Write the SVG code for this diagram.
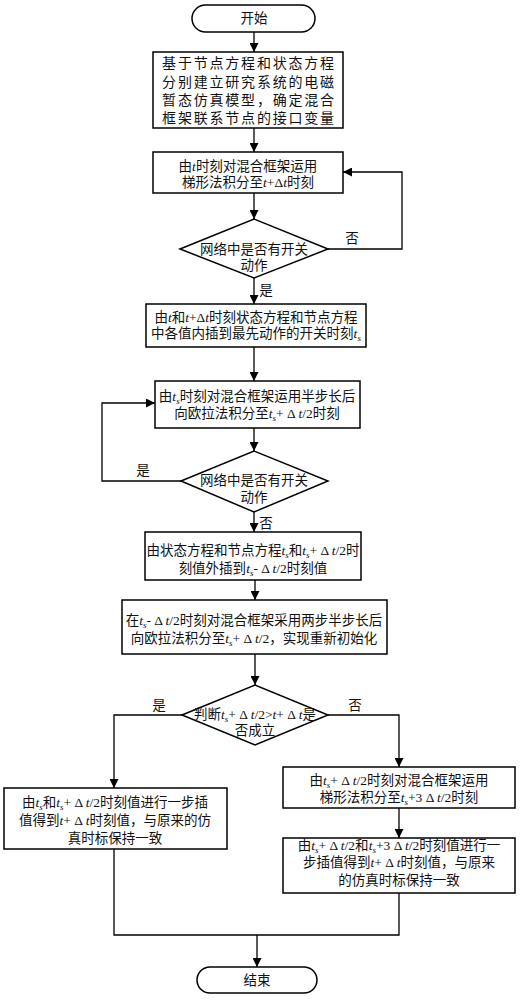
<svg xmlns="http://www.w3.org/2000/svg" width="521" height="1000" viewBox="0 0 521 1000">
<defs>
<style>
.b{fill:#fff;stroke:#000;stroke-width:1.5}
.l{fill:none;stroke:#000;stroke-width:1.3}
text{font-family:"Liberation Serif","Noto Sans CJK SC",serif;font-size:13.5px;fill:#111;text-anchor:middle}
.i{font-style:italic}
.s{font-size:9px;font-style:italic;baseline-shift:-2.5px}
.big{font-size:14px;letter-spacing:1.8px}
</style>
<marker id="a" viewBox="0 0 10 10" refX="10" refY="5" markerWidth="9" markerHeight="9" markerUnits="userSpaceOnUse" orient="auto">
<path d="M0,0 L10,5 L0,10 z" fill="#000"/>
</marker>
</defs>
<rect width="521" height="1000" fill="#fff"/>

<g id="connectors">
<line class="l" x1="254" y1="32" x2="254" y2="52" marker-end="url(#a)"/>
<line class="l" x1="254" y1="128" x2="254" y2="152" marker-end="url(#a)"/>
<line class="l" x1="254" y1="193" x2="254" y2="219" marker-end="url(#a)"/>
<polyline class="l" points="328,249 402,249 402,172 343,172" marker-end="url(#a)"/>
<line class="l" x1="254" y1="278" x2="254" y2="304" marker-end="url(#a)"/>
<line class="l" x1="254" y1="347" x2="254" y2="381" marker-end="url(#a)"/>
<line class="l" x1="254" y1="428" x2="254" y2="451" marker-end="url(#a)"/>
<polyline class="l" points="181,481 102,481 102,403 155,403" marker-end="url(#a)"/>
<line class="l" x1="254" y1="512" x2="254" y2="532" marker-end="url(#a)"/>
<line class="l" x1="255" y1="580" x2="255" y2="600" marker-end="url(#a)"/>
<line class="l" x1="255" y1="654" x2="255" y2="685" marker-end="url(#a)"/>
<polyline class="l" points="182,715 114,715 114,788" marker-end="url(#a)"/>
<polyline class="l" points="328,715 399,715 399,767" marker-end="url(#a)"/>
<line class="l" x1="399" y1="808" x2="399" y2="838" marker-end="url(#a)"/>
<polyline class="l" points="114,849 114,935 399,935 399,893"/>
<line class="l" x1="257" y1="935" x2="257" y2="967" marker-end="url(#a)"/>
<text x="352" y="243">否</text>
<text x="266" y="295">是</text>
<text x="143" y="475">是</text>
<text x="266" y="528">否</text>
<text x="159" y="710">是</text>
<text x="355" y="710">否</text>
</g>

<g id="start">
<rect class="b" x="192" y="5" width="123" height="27" rx="13.5"/>
<text x="254" y="23">开始</text>
</g>

<g id="box1">
<rect class="b" x="153" y="52" width="190" height="76"/>
<text class="big" x="249" y="68">基于节点方程和状态方程</text>
<text class="big" x="249" y="87">分别建立研究系统的电磁</text>
<text class="big" x="249" y="105">暂态仿真模型，确定混合</text>
<text class="big" x="249" y="123">框架联系节点的接口变量</text>
</g>

<g id="box2">
<rect class="b" x="153" y="152" width="190" height="41"/>
<text x="248" y="171">由<tspan class="i">t</tspan>时刻对混合框架运用</text>
<text x="248" y="187">梯形法积分至<tspan class="i">t</tspan>+Δ<tspan class="i">t</tspan>时刻</text>
</g>

<g id="dec1">
<polygon class="b" points="180,249 254,219 328,249 254,278"/>
<text x="254" y="254">网络中是否有开关</text>
<text x="254" y="270">动作</text>
</g>

<g id="box3">
<rect class="b" x="146" y="304" width="220" height="43"/>
<text x="256" y="322">由<tspan class="i">t</tspan>和<tspan class="i">t</tspan>+Δ<tspan class="i">t</tspan>时刻状态方程和节点方程</text>
<text x="256" y="338">中各值内插到最先动作的开关时刻<tspan class="i">t</tspan><tspan class="s">s</tspan></text>
</g>

<g id="box4">
<rect class="b" x="155" y="381" width="205" height="47"/>
<text x="257" y="401">由<tspan class="i">t</tspan><tspan class="s">s</tspan>时刻对混合框架运用半步长后</text>
<text x="257" y="418">向欧拉法积分至<tspan class="i">t</tspan><tspan class="s">s</tspan>+ Δ <tspan class="i">t</tspan>/2时刻</text>
</g>

<g id="dec2">
<polygon class="b" points="181,481 254,451 328,481 254,512"/>
<text x="254" y="485">网络中是否有开关</text>
<text x="254" y="502">动作</text>
</g>

<g id="box5">
<rect class="b" x="145" y="532" width="216" height="48"/>
<text x="253" y="555">由状态方程和节点方程<tspan class="i">t</tspan><tspan class="s">s</tspan>和<tspan class="i">t</tspan><tspan class="s">s</tspan>+ Δ <tspan class="i">t</tspan>/2时</text>
<text x="253" y="573">刻值外插到<tspan class="i">t</tspan><tspan class="s">s</tspan>- Δ <tspan class="i">t</tspan>/2时刻值</text>
</g>

<g id="box6">
<rect class="b" x="122" y="600" width="265" height="54"/>
<text x="254" y="625">在<tspan class="i">t</tspan><tspan class="s">s</tspan>- Δ <tspan class="i">t</tspan>/2时刻对混合框架采用两步半步长后</text>
<text x="254" y="643">向欧拉法积分至<tspan class="i">t</tspan><tspan class="s">s</tspan>+ Δ <tspan class="i">t</tspan>/2，实现重新初始化</text>
</g>

<g id="dec3">
<polygon class="b" points="182,715 255,685 328,715 255,745"/>
<text x="255" y="719">判断<tspan class="i">t</tspan><tspan class="s">s</tspan>+ Δ <tspan class="i">t</tspan>/2&gt;<tspan class="i">t</tspan>+ Δ <tspan class="i">t</tspan>是</text>
<text x="255" y="735">否成立</text>
</g>

<g id="box7">
<rect class="b" x="4" y="788" width="223" height="61"/>
<text x="115" y="807">由<tspan class="i">t</tspan><tspan class="s">s</tspan>和<tspan class="i">t</tspan><tspan class="s">s</tspan>+ Δ <tspan class="i">t</tspan>/2时刻值进行一步插</text>
<text x="115" y="825">值得到<tspan class="i">t</tspan>+ Δ <tspan class="i">t</tspan>时刻值，与原来的仿</text>
<text x="115" y="843">真时标保持一致</text>
</g>

<g id="box8">
<rect class="b" x="283" y="767" width="232" height="41"/>
<text x="399" y="785">由<tspan class="i">t</tspan><tspan class="s">s</tspan>+ Δ <tspan class="i">t</tspan>/2时刻对混合框架运用</text>
<text x="399" y="802">梯形法积分至<tspan class="i">t</tspan><tspan class="s">s</tspan>+3 Δ <tspan class="i">t</tspan>/2时刻</text>
</g>

<g id="box9">
<rect class="b" x="283" y="838" width="232" height="55"/>
<text x="399" y="850">由<tspan class="i">t</tspan><tspan class="s">s</tspan>+ Δ <tspan class="i">t</tspan>/2和<tspan class="i">t</tspan><tspan class="s">s</tspan>+3 Δ <tspan class="i">t</tspan>/2时刻值进行一</text>
<text x="399" y="867">步插值得到<tspan class="i">t</tspan>+ Δ <tspan class="i">t</tspan>时刻值，与原来</text>
<text x="399" y="885">的仿真时标保持一致</text>
</g>

<g id="end">
<rect class="b" x="197" y="967" width="120" height="26" rx="13"/>
<text x="257" y="985">结束</text>
</g>
</svg>
